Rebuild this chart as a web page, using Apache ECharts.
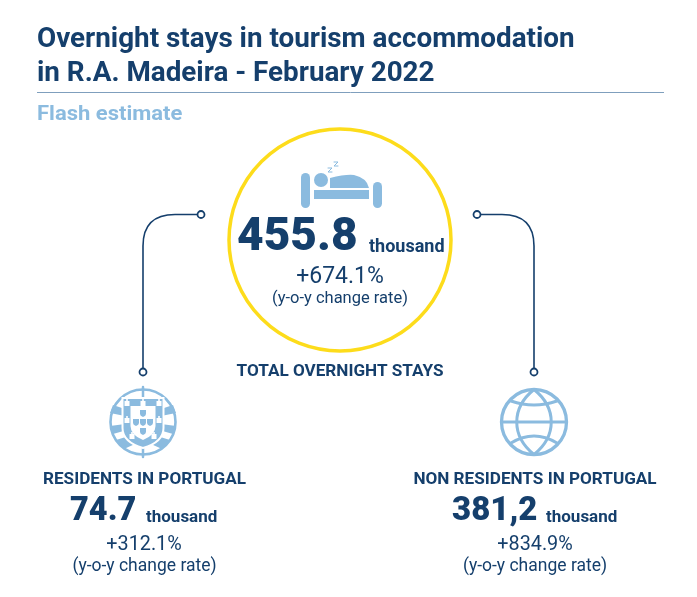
<!DOCTYPE html>
<html>
<head>
    <meta charset="UTF-8">
    <title>Overnight stays in tourism accommodation</title>
    <script src="https://cdn.jsdelivr.net/npm/echarts@6/dist/echarts.min.js"></script>
    <style>
        html, body { margin: 0; padding: 0; background: #fff; }
        #chart { width: 697px; height: 597px; }
    </style>
</head>
<body>
    <div id="chart"></div>
    <script>
        // text and values
        const titleLines = ['Overnight stays in tourism accommodation', 'in R.A. Madeira - February 2022'];
        const subtitle = 'Flash estimate';
        const groupNames = ['TOTAL OVERNIGHT STAYS', 'RESIDENTS IN PORTUGAL', 'NON RESIDENTS IN PORTUGAL'];
        const stayValues = ['455.8', '74.7', '381,2'];
        const changeRates = ['+674.1%', '+312.1%', '+834.9%'];
        const unitLabel = 'thousand';
        const rateLabel = '(y-o-y change rate)';

        const DARK = '#153f6c';
        const LIGHT = '#8bbbdf';
        const FONT = 'Roboto, sans-serif';
        const chart = echarts.init(document.getElementById('chart'));

        function txt(text, x, y, size, weight, fill, align, scaleX) {
            return {
                type: 'text',
                x: x, y: y,
                scaleX: scaleX || 1,
                style: {
                    text: text, x: 0, y: 0,
                    font: weight + ' ' + size + 'px ' + FONT,
                    fill: fill, align: align || 'left', verticalAlign: 'middle'
                }
            };
        }
        // graphic has no plain svg path type, so each one is registered as a shape
        let pathCount = 0;
        function pathEl(d, style) {
            const name = 'iconPath' + (pathCount++);
            echarts.graphic.registerShape(name, echarts.graphic.extendPath(d));
            return { type: name, style: style };
        }
        function stroke(d, color, width) {
            return pathEl(d, { fill: null, stroke: color, lineWidth: width, lineCap: 'round' });
        }
        function fill(d, color) {
            return pathEl(d, { fill: color });
        }
        function ring(cx, cy, r, color, width, bg) {
            return {
                type: 'circle',
                shape: { cx: cx, cy: cy, r: r },
                style: { fill: bg || null, stroke: color, lineWidth: width }
            };
        }
        function disc(cx, cy, r, color) {
            return { type: 'circle', shape: { cx: cx, cy: cy, r: r }, style: { fill: color } };
        }
        function box(x, y, w, h, r, color) {
            return { type: 'rect', shape: { x: x, y: y, width: w, height: h, r: r }, style: { fill: color } };
        }

        function bedIcon() {
            return [
                box(301, 173, 9, 35, 4.5, LIGHT),
                box(373, 182, 9, 26, 4.5, LIGHT),
                box(314, 190, 55, 9, 0, LIGHT),
                disc(321, 180, 7, LIGHT),
                fill('M330 188 L330 178 Q346 174 354 175 Q367 178 369 188 Z', LIGHT),
                stroke('M328 168 L332 168 L328 172 L332 172', LIGHT, 1),
                stroke('M334 162 L338 162 L334 166 L338 166', LIGHT, 1)
            ];
        }

        function globeIcon(cx, cy) {
            const r = 32.5;
            return [
                ring(cx, cy, r, LIGHT, 3.3),
                stroke(`M${cx} ${cy - r} C${cx - 23} ${cy - 14} ${cx - 23} ${cy + 14} ${cx} ${cy + r}`, LIGHT, 3),
                stroke(`M${cx} ${cy - r} C${cx + 23} ${cy - 14} ${cx + 23} ${cy + 14} ${cx} ${cy + r}`, LIGHT, 3),
                stroke(`M${cx - r} ${cy} L${cx + r} ${cy}`, LIGHT, 3),
                stroke(`M${cx - 23} ${cy - 21} Q${cx} ${cy - 13} ${cx + 23} ${cy - 21}`, LIGHT, 3),
                stroke(`M${cx - 23} ${cy + 21} Q${cx} ${cy + 7} ${cx + 23} ${cy + 21}`, LIGHT, 3)
            ];
        }

        function crestIcon(cx, cy) {
            const items = [ring(cx, cy, 32.5, LIGHT, 2.6)];
            // armillary bands
            items.push(stroke(`M${cx} ${cy - 35} L${cx} ${cy + 35}`, LIGHT, 2.5));
            items.push(fill(`M${cx - 30} ${cy - 17} L${cx - 18} ${cy - 13} L${cx - 18} ${cy - 6} L${cx - 33} ${cy - 9} Z`, LIGHT));
            items.push(fill(`M${cx + 30} ${cy - 17} L${cx + 18} ${cy - 13} L${cx + 18} ${cy - 6} L${cx + 33} ${cy - 9} Z`, LIGHT));
            items.push(fill(`M${cx - 33} ${cy + 4} L${cx - 18} ${cy + 2} L${cx - 16} ${cy + 8} L${cx - 30} ${cy + 12} Z`, LIGHT));
            items.push(fill(`M${cx + 33} ${cy + 4} L${cx + 18} ${cy + 2} L${cx + 16} ${cy + 8} L${cx + 30} ${cy + 12} Z`, LIGHT));
            items.push(fill(`M${cx - 27} ${cy + 18} L${cx - 14} ${cy + 14} L${cx - 8} ${cy + 22} L${cx - 19} ${cy + 27} Z`, LIGHT));
            items.push(fill(`M${cx + 27} ${cy + 18} L${cx + 14} ${cy + 14} L${cx + 8} ${cy + 22} L${cx + 19} ${cy + 27} Z`, LIGHT));
            // outer shield with white edge
            const outer = `M${cx - 20.5} ${cy - 24} L${cx + 20.5} ${cy - 24} L${cx + 20.5} ${cy + 6} Q${cx + 20.5} ${cy + 20} ${cx} ${cy + 26} Q${cx - 20.5} ${cy + 20} ${cx - 20.5} ${cy + 6} Z`;
            items.push(pathEl(outer, { fill: LIGHT, stroke: '#fff', lineWidth: 2 }));
            // inner white shield
            items.push(fill(`M${cx - 12.5} ${cy - 16} L${cx + 12.5} ${cy - 16} L${cx + 12.5} ${cy + 4} Q${cx + 12.5} ${cy + 13} ${cx} ${cy + 18} Q${cx - 12.5} ${cy + 13} ${cx - 12.5} ${cy + 4} Z`, '#fff'));
            // castles
            [[-16, -19], [0, -19], [16, -19], [-16, -2], [16, -2], [-11, 14], [11, 14]].forEach(p => {
                items.push(box(cx + p[0] - 2.5, cy + p[1] - 2, 5, 5, 0, '#fff'));
                items.push(box(cx + p[0] - 0.8, cy + p[1] - 4, 1.6, 2, 0, '#fff'));
            });
            // small shields
            [[0, -9], [-7, 0], [0, 0], [7, 0], [0, 9]].forEach(p => {
                items.push(fill(`M${cx + p[0] - 3} ${cy + p[1] - 3} h6 v4 q0 2 -3 3 q-3 -1 -3 -3 Z`, LIGHT));
            });
            return items;
        }

        const elements = [
            txt(titleLines[0], 37, 40, 27, 'bold', DARK, 'left', 1.03),
            txt(titleLines[1], 37, 74, 27, 'bold', DARK, 'left', 1.03),
            { type: 'line', shape: { x1: 37, y1: 92.5, x2: 664, y2: 92.5 }, style: { stroke: '#7f9fbd', lineWidth: 1 } },
            txt(subtitle, 37, 115, 20, 'bold', LIGHT, 'left', 1.1),

            // connectors
            stroke('M143 369 L143 246 Q143 214.5 175 214.5 L197 214.5', DARK, 1.6),
            ring(201, 214.5, 3.5, DARK, 1.8, '#fff'),
            ring(143, 372, 3.5, DARK, 1.8, '#fff'),
            stroke('M534 369 L534 246 Q534 214.5 502 214.5 L481 214.5', DARK, 1.6),
            ring(477, 214.5, 3.5, DARK, 1.8, '#fff'),
            ring(534, 372, 3.5, DARK, 1.8, '#fff'),

            ring(340, 240, 111, '#fddc1b', 3.5, '#fff')
        ].concat(
            bedIcon(),
            [
                txt(stayValues[0], 237, 238, 46, 900, DARK),
                txt(unitLabel, 369, 247, 18, 'bold', DARK),
                txt(changeRates[0], 340, 277, 23, 'normal', DARK, 'center'),
                txt(rateLabel, 340, 299, 16.5, 'normal', DARK, 'center'),
                txt(groupNames[0], 340, 372, 16, 'bold', DARK, 'center', 1.07)
            ],
            crestIcon(143, 422),
            [
                txt(groupNames[1], 144.5, 480, 16, 'bold', DARK, 'center', 1.07),
                txt(stayValues[1], 70, 512, 32.5, 900, DARK),
                txt(unitLabel, 146, 518, 17, 'bold', DARK),
                txt(changeRates[1], 144, 545, 19.8, 'normal', DARK, 'center'),
                txt(rateLabel, 144.5, 567, 17.5, 'normal', DARK, 'center')
            ],
            globeIcon(534, 422),
            [
                txt(groupNames[2], 535, 480, 16, 'bold', DARK, 'center', 1.07),
                txt(stayValues[2], 452, 512, 33, 900, DARK),
                txt(unitLabel, 546, 518, 17, 'bold', DARK),
                txt(changeRates[2], 535, 545, 19.8, 'normal', DARK, 'center'),
                txt(rateLabel, 535, 567, 17.5, 'normal', DARK, 'center')
            ]
        );

        chart.setOption({
            animation: false,
            graphic: { elements: elements }
        });
    </script>
</body>
</html>
